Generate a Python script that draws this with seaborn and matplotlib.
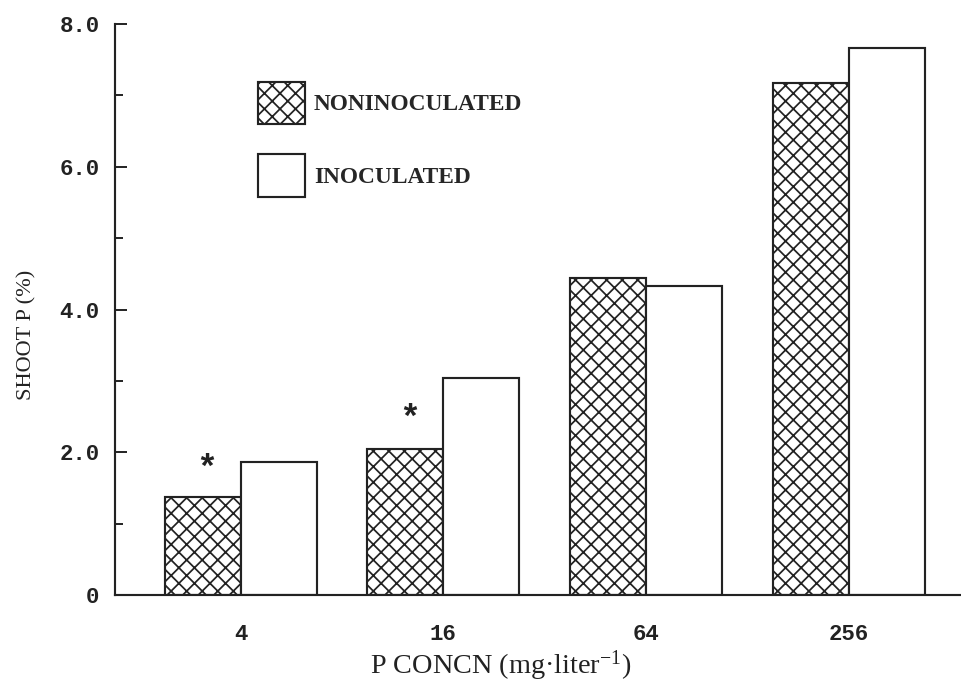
import numpy as np
import pandas as pd
import matplotlib
matplotlib.use("Agg")
import matplotlib.pyplot as plt
import seaborn as sns
from matplotlib.patches import Patch
from matplotlib.ticker import MultipleLocator

# data
concn = ["4", "16", "64", "256"]
noninoculated = [1.37, 2.05, 4.44, 7.18]
inoculated = [1.87, 3.04, 4.33, 7.67]
treatments = ["NONINOCULATED", "INOCULATED"]

# asterisks (significant difference) above the noninoculated bars
star_groups = [0, 1]
star_y = [1.76, 2.46]

df = pd.DataFrame({
    "concn": concn * 2,
    "treatment": [treatments[0]] * 4 + [treatments[1]] * 4,
    "shoot_p": noninoculated + inoculated,
})

sns.set_style("ticks")
plt.rcParams["font.family"] = ["Liberation Serif", "DejaVu Serif"]
plt.rcParams["mathtext.fontset"] = "custom"
plt.rcParams["mathtext.rm"] = "Liberation Serif"
plt.rcParams["mathtext.default"] = "rm"
plt.rcParams["hatch.linewidth"] = 0.9

ink = "#222222"
mono = ["Liberation Mono", "DejaVu Sans Mono"]

fig = plt.figure(figsize=(962 / 140, 684 / 140), dpi=140)
ax = fig.add_axes([115 / 962, 89 / 684, 1 - 115 / 962, 571 / 684])

sns.barplot(
    data=df, x="concn", y="shoot_p", hue="treatment",
    order=concn, hue_order=treatments,
    palette=["white", "white"], width=0.75, gap=0,
    edgecolor=ink, linewidth=1.1, legend=False, ax=ax,
)

for bar in ax.containers[0]:
    bar.set_hatch("xxx")

# asterisks
offset = 0.75 / 4
for g, yv in zip(star_groups, star_y):
    ax.text(g - offset + 0.02, yv, "*", ha="center", va="center",
            fontsize=18, fontweight="bold", family=mono, color=ink)

ax.set_ylim(0, 8)
ax.set_xlim(-0.62, 3.56)
ax.yaxis.set_major_locator(MultipleLocator(2))
ax.yaxis.set_minor_locator(MultipleLocator(1))
ax.set_yticks([0, 2, 4, 6, 8])
ax.set_yticklabels(["0", "2.0", "4.0", "6.0", "8.0"])

ax.tick_params(axis="y", which="major", direction="in", length=6,
               width=1.0, color=ink, pad=8)
ax.tick_params(axis="y", which="minor", direction="in", length=4,
               width=1.0, color=ink)
ax.tick_params(axis="x", length=0, pad=15)
for lab in ax.get_xticklabels() + ax.get_yticklabels():
    lab.set_family(mono)
    lab.set_fontweight("bold")
    lab.set_fontsize(11.5)
    lab.set_color(ink)

sns.despine(ax=ax)
for side in ["left", "bottom"]:
    ax.spines[side].set_linewidth(1.1)
    ax.spines[side].set_color(ink)

ax.set_ylabel("SHOOT P (%)", fontsize=11.5, color=ink)
ax.yaxis.set_label_coords(-0.093, 0.455)
ax.set_xlabel("P CONCN (mg·liter$^{-1}$)", fontsize=14.5, color=ink)
ax.xaxis.set_label_coords(0.455, -0.094)

handles = [
    Patch(facecolor="white", edgecolor=ink, hatch="xxx", linewidth=1.1),
    Patch(facecolor="white", edgecolor=ink, linewidth=1.1),
]
ax.legend(handles, treatments, loc="upper left",
          bbox_to_anchor=(143 / 847, 513 / 571), frameon=False,
          borderpad=0, borderaxespad=0, handlelength=2.0, handleheight=2.4,
          handletextpad=0.4, labelspacing=1.3,
          prop={"family": ["Liberation Serif"], "weight": "bold", "size": 12})

fig.savefig("out.png", dpi=140, facecolor="white")
